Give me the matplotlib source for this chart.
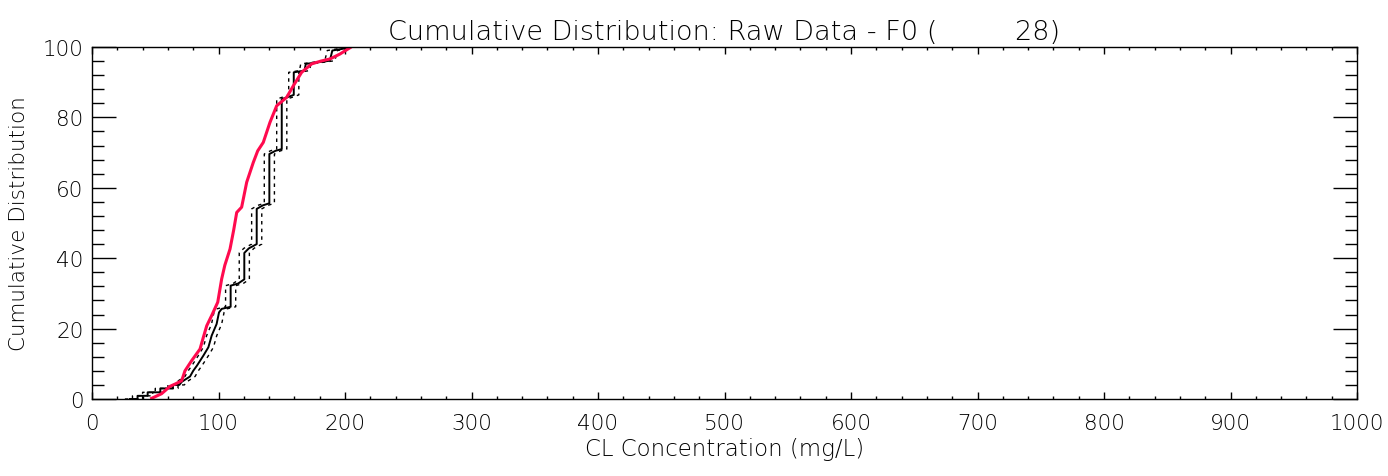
import matplotlib
matplotlib.use("Agg")
import matplotlib.pyplot as plt
from matplotlib.ticker import MultipleLocator

# ---- data ----
# empirical CDF of raw data (solid black step line)
ecdf_x = [30, 36, 36, 44, 44, 54, 54, 64, 64, 69, 71, 77.5, 80, 83, 88, 92, 94.6, 98.5,
          100.4, 102.5, 109.6, 109.6, 115.5, 120.4, 120.4, 124, 130.2, 130.2, 135, 140.2,
          140.2, 145, 150, 150, 155, 159.5, 159.5, 168, 169, 188, 190, 200, 202]
ecdf_y = [0, 0, 0.9, 0.9, 1.9, 1.9, 3, 3, 4, 4, 4.9, 6.4, 8, 9.5, 12.3, 14.7, 18, 21.3,
          24.6, 25.6, 26.2, 32.2, 32.8, 34, 41.5, 42.8, 44, 54, 55, 55.6,
          69.6, 70.5, 71, 85.2, 85.8, 86.4, 92.8, 93.3, 95.2, 96.1, 99, 99.6, 100]

# lower / upper bounds (dotted black lines)
lower_x = [26, 32, 32, 40, 40, 50, 50, 60, 60, 65, 67, 73.5, 76, 79, 84, 88, 90.6, 94.5,
           96.4, 98.5, 105.6, 105.6, 111.5, 116.4, 116.4, 120, 126.2, 126.2, 131, 136.2,
           136.2, 141, 146, 146, 151, 155.5, 155.5, 164, 165, 184, 186, 196, 198]
upper_x = [34, 40, 40, 48, 48, 58, 58, 68, 68, 73, 75, 81.5, 84, 87, 92, 96, 98.6, 102.5,
           104.4, 106.5, 113.6, 113.6, 119.5, 124.4, 124.4, 128, 134.2, 134.2, 139, 144.2,
           144.2, 149, 154, 154, 159, 163.5, 163.5, 172, 173, 192, 194, 204, 206]

# fitted distribution (red line)
fit_x = [47.2, 55, 61.7, 66, 70.9, 73.5, 78.8, 85.4, 88, 90.7, 94.6, 99.4, 102.5, 105,
         109.1, 112, 114.4, 118.3, 122.3, 127.5, 131, 135.4, 140.7, 146, 153.9, 159.2,
         165.7, 173.6, 181, 188.1, 196, 204]
fit_y = [0.2, 1.5, 3.6, 4.3, 5.2, 8, 10.9, 14.2, 17.5, 20.8, 23.7, 27.5, 34.1, 38,
         42.6, 48, 53, 54.5, 61.6, 67.2, 70.5, 72.9, 78.6, 83.3, 85.7, 89,
         92.8, 95.2, 96, 96.6, 98, 99.8]

title_text = "Cumulative Distribution: Raw Data - F0 (         28)"
xlabel_text = "CL Concentration (mg/L)"
ylabel_text = "Cumulative Distribution"

# ---- figure ----
plt.rcParams['font.family'] = ['DejaVu Sans']
fig = plt.figure(figsize=(13.88, 4.77), dpi=100)
ax = fig.add_axes([92 / 1388, 77 / 477, 1265 / 1388, 352 / 477])

ax.plot(lower_x, ecdf_y, color='black', lw=1.0, ls=(0, (2.5, 3)))
ax.plot(upper_x, ecdf_y, color='black', lw=1.0, ls=(0, (2.5, 3)))
ax.plot(ecdf_x, ecdf_y, color='black', lw=1.4)
ax.plot(fit_x, fit_y, color='#ff0a4e', lw=2.2)

ax.set_xlim(0, 1000)
ax.set_ylim(0, 100)
ax.xaxis.set_major_locator(MultipleLocator(100))
ax.xaxis.set_minor_locator(MultipleLocator(20))
ax.yaxis.set_major_locator(MultipleLocator(20))
ax.yaxis.set_minor_locator(MultipleLocator(4))

ax.tick_params(axis='x', which='major', direction='in', length=4.8, width=1,
               top=True, bottom=True, labelsize=15.5, pad=10, colors='black')
ax.tick_params(axis='x', which='minor', direction='in', length=2.4, width=1,
               top=True, bottom=True)
ax.tick_params(axis='y', which='major', direction='in', length=17.3, width=1,
               left=True, right=True, labelsize=15.5, pad=6, colors='black')
ax.tick_params(axis='y', which='minor', direction='in', length=8.6, width=1,
               left=True, right=True)
for lab in ax.get_xticklabels() + ax.get_yticklabels():
    lab.set_fontweight('light')
for s in ax.spines.values():
    s.set_linewidth(1.0)

ax.set_title(title_text, fontsize=19.5, fontweight='light', pad=6, color='black')
ax.set_xlabel(xlabel_text, fontsize=16.5, fontweight='light', labelpad=3, color='black')
ax.set_ylabel(ylabel_text, fontsize=15.5, fontweight='light', labelpad=10, color='black')

fig.savefig('out.png', dpi=100)
